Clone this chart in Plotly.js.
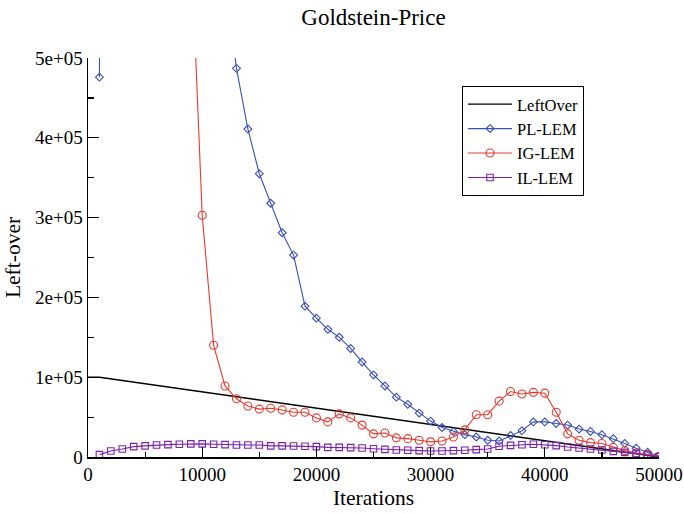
<!DOCTYPE html>
<html>
<head>
<meta charset="utf-8">
<script src="https://cdn.plot.ly/plotly-3.0.1.min.js"></script>
<style>html,body{margin:0;padding:0;background:#fff}#chart{width:684px;height:513px}</style>
</head>
<body>
<div id="chart"></div>
<script>
var iterations = [1000,2000,3000,4000,5000,6000,7000,8000,9000,10000,
  11000,12000,13000,14000,15000,16000,17000,18000,19000,20000,
  21000,22000,23000,24000,25000,26000,27000,28000,29000,30000,
  31000,32000,33000,34000,35000,36000,37000,38000,39000,40000,
  41000,42000,43000,44000,45000,46000,47000,48000,49000,50000];

var leftOverX = [0, 1000, 50000];
var leftOverY = [100000, 100000, 0];

var plLem = [476000,3000000,2700000,2400000,2100000,1850000,1600000,1350000,1150000,950000,
  780000,600000,487000,411000,355000,318000,281000,253000,189000,174000,
  160000,150000,136000,119000,103000,89000,75000,66000,55000,45000,
  37000,32000,28000,25000,21000,20000,27000,33000,44000,44000,
  42000,40000,35000,32000,28000,23000,17000,11000,6000,1000];

var igLem = [4800000,4100000,3500000,2900000,2400000,1900000,1400000,1000000,650000,303000,
  140000,89000,73000,64000,60000,61000,59000,56000,56000,49000,
  44000,54000,49000,40000,29000,30000,24000,23000,21000,19000,
  20000,25000,34000,53000,53000,70000,82000,79000,81000,80000,
  56000,29000,21000,18000,17000,12000,8000,5000,3000,1000];

var ilLem = [3000,7500,10000,13000,14000,15000,15500,16000,16500,16500,
  16000,15500,15000,15000,15000,14000,14000,13800,13400,13000,
  12000,12000,11700,11300,10400,9600,8800,8400,8000,7500,
  7500,8000,8400,9200,10000,13400,14600,15400,15900,15400,
  14200,12500,11300,10000,8800,7100,5800,4200,2500,400];

var xTickVals = [0,10000,20000,30000,40000,50000];
var xTickText = ['0','10000','20000','30000','40000','50000'];
var yTickVals = [0,100000,200000,300000,400000,500000];
var yTickText = ['0','1e+05','2e+05','3e+05','4e+05','5e+05'];

var serif = 'Liberation Serif, Times New Roman, serif';
var blue = '#3b4fb8', red = '#e8392e', purple = '#7d22ad';

var traces = [
  {x: leftOverX, y: leftOverY, name: 'LeftOver', mode: 'lines',
   line: {color: '#000000', width: 1.4}},
  {x: iterations, y: plLem, name: 'PL-LEM', mode: 'lines+markers',
   line: {color: blue, width: 1.1},
   marker: {symbol: 'diamond-open', size: 6, color: blue, line: {width: 1.1, color: blue}}},
  {x: iterations, y: igLem, name: 'IG-LEM', mode: 'lines+markers',
   line: {color: red, width: 1.1},
   marker: {symbol: 'circle-open', size: 8, color: red, line: {width: 1.1, color: red}}},
  {x: iterations, y: ilLem, name: 'IL-LEM', mode: 'lines+markers',
   line: {color: purple, width: 1.1},
   marker: {symbol: 'square-open', size: 6.5, color: purple, line: {width: 1.1, color: purple}}}
];

var layout = {
  width: 684, height: 513,
  margin: {l: 88, r: 25, t: 58, b: 56, pad: 0},
  paper_bgcolor: '#ffffff', plot_bgcolor: '#ffffff',
  font: {family: serif, color: '#000000', size: 18},
  title: {text: 'Goldstein-Price', font: {family: serif, size: 23, color: '#000'},
          x: 0.5, xref: 'paper', xanchor: 'center', y: 0.967, yref: 'container', yanchor: 'middle'},
  xaxis: {
    range: [0, 50000], showgrid: false, zeroline: false,
    showline: true, linecolor: '#000', linewidth: 1.5,
    ticks: 'inside', ticklen: 10, tickwidth: 1.2, tickcolor: '#000',
    tickmode: 'array', tickvals: xTickVals, ticktext: xTickText,
    tickfont: {family: serif, size: 19, color: '#000'},
    minor: {dtick: 5000, tick0: 0, ticks: 'inside', ticklen: 5, tickwidth: 1.2, tickcolor: '#000', showgrid: false},
    title: {text: 'Iterations', font: {family: serif, size: 21.5, color: '#000'}, standoff: 5}
  },
  yaxis: {
    range: [0, 500000], showgrid: false, zeroline: false,
    showline: true, linecolor: '#000', linewidth: 1.5,
    ticks: 'inside', ticklen: 11, tickwidth: 1.2, tickcolor: '#000',
    tickmode: 'array', tickvals: yTickVals, ticktext: yTickText,
    tickfont: {family: serif, size: 19, color: '#000'},
    minor: {dtick: 50000, tick0: 0, ticks: 'inside', ticklen: 6, tickwidth: 1.2, tickcolor: '#000', showgrid: false},
    title: {text: 'Left-over', font: {family: serif, size: 21.5, color: '#000'}, standoff: 8}
  },
  showlegend: true,
  legend: {
    x: 0.655, y: 0.93, xanchor: 'left', yanchor: 'top',
    bgcolor: '#ffffff', bordercolor: '#000', borderwidth: 1,
    font: {family: serif, size: 16.5, color: '#000'},
    tracegroupgap: 0, itemwidth: 44, entrywidth: 104
  }
};

Plotly.newPlot('chart', traces, layout, {displayModeBar: false, staticPlot: true});
</script>
</body>
</html>
